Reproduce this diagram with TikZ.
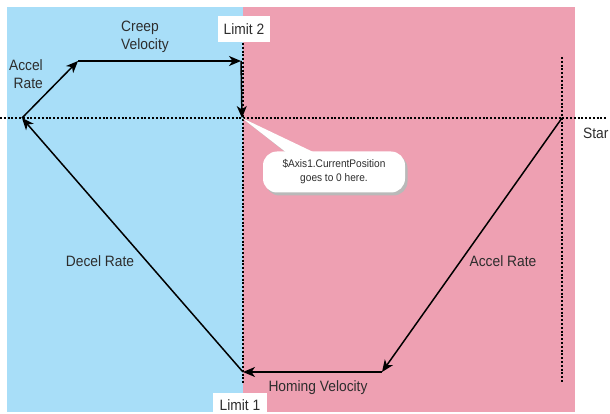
\documentclass[tikz,border=0pt]{standalone}
\usepackage{fontspec}
\setmainfont{Liberation Sans}[FakeStretch=0.92]
\usetikzlibrary{arrows.meta}
\definecolor{bluebg}{RGB}{168,222,248}
\definecolor{pinkbg}{RGB}{238,160,178}
\definecolor{txt}{RGB}{45,45,45}
\begin{document}
\begin{tikzpicture}[x=1pt,y=-1pt,
  lbl/.style={font=\fontsize{15}{18.5}\selectfont, text=txt, inner sep=0pt},
  arr/.style={line width=1.5pt, -{Stealth[length=12pt,width=10pt,inset=3.5pt]}},
  dotline/.style={line width=2pt, dash pattern=on 2pt off 1.8pt}]
\useasboundingbox (0,0) rectangle (610,414);
\fill[white] (0,0) rectangle (610,414);
\fill[bluebg] (7,7) rectangle (243,412);
\fill[pinkbg] (243,7) rectangle (575,412);

% coordinates
\coordinate (A) at (22,118);
\coordinate (B) at (78,61);
\coordinate (C) at (241,61);
\coordinate (O) at (242,118);
\coordinate (L) at (243,372);
\coordinate (H) at (382,372);
\coordinate (S) at (562,118);
\coordinate (hl) at (0,118);
\coordinate (hr) at (607,118);
\coordinate (vt) at (243,43);
\coordinate (vb) at (243,383);
\coordinate (rt) at (562,57);
\coordinate (rb) at (562,383);

% dotted lines
\draw[dotline] (hl) -- (hr);
\draw[dotline] (vt) -- (vb);
\draw[dotline] (rt) -- (rb);

% limit labels
\node[lbl, fill=white, minimum width=52pt, minimum height=26pt] (lim2) at (244,29) {Limit 2};
\node[lbl, fill=white, minimum width=54pt, minimum height=24pt, anchor=north] (lim1) at (240,393) {Limit 1};

% arrows
\draw[arr] (A) -- (B);
\draw[arr] (B) -- (C);
\draw[arr] (C) -- (O);
\draw[arr] (S) -- (H);
\draw[arr] (H) -- (L);
\draw[arr] (L) -- (A);

% callout
\begin{scope}[xshift=2.5pt, yshift=-2.5pt]
  \fill[gray!55] (O) -- (296,160) -- (330,160) -- cycle;
  \fill[gray!55, rounded corners=14pt] (263,152) rectangle (405,193);
\end{scope}
\fill[white] (O) -- (296,160) -- (330,160) -- cycle;
\node[fill=white, rounded corners=14pt, minimum width=142pt, minimum height=41pt,
  align=center, font=\fontsize{11}{14}\selectfont, text=txt, inner sep=0pt] (call) at (334,172)
  {\$Axis1.CurrentPosition\\goes to 0 here.};

% text labels
\node[lbl, align=left, anchor=west] (creep) at (121,37) {Creep\\Velocity};
\node[lbl, align=right, anchor=east] (acc1) at (43,74) {Accel\\Rate};
\node[lbl] (dec) at (100,261) {Decel Rate};
\node[lbl] (acc2) at (503,261) {Accel Rate};
\node[lbl] (hom) at (318,388) {Homing Velocity};
\node[lbl, anchor=west] (star) at (583,133) {Star};
\end{tikzpicture}
\end{document}
